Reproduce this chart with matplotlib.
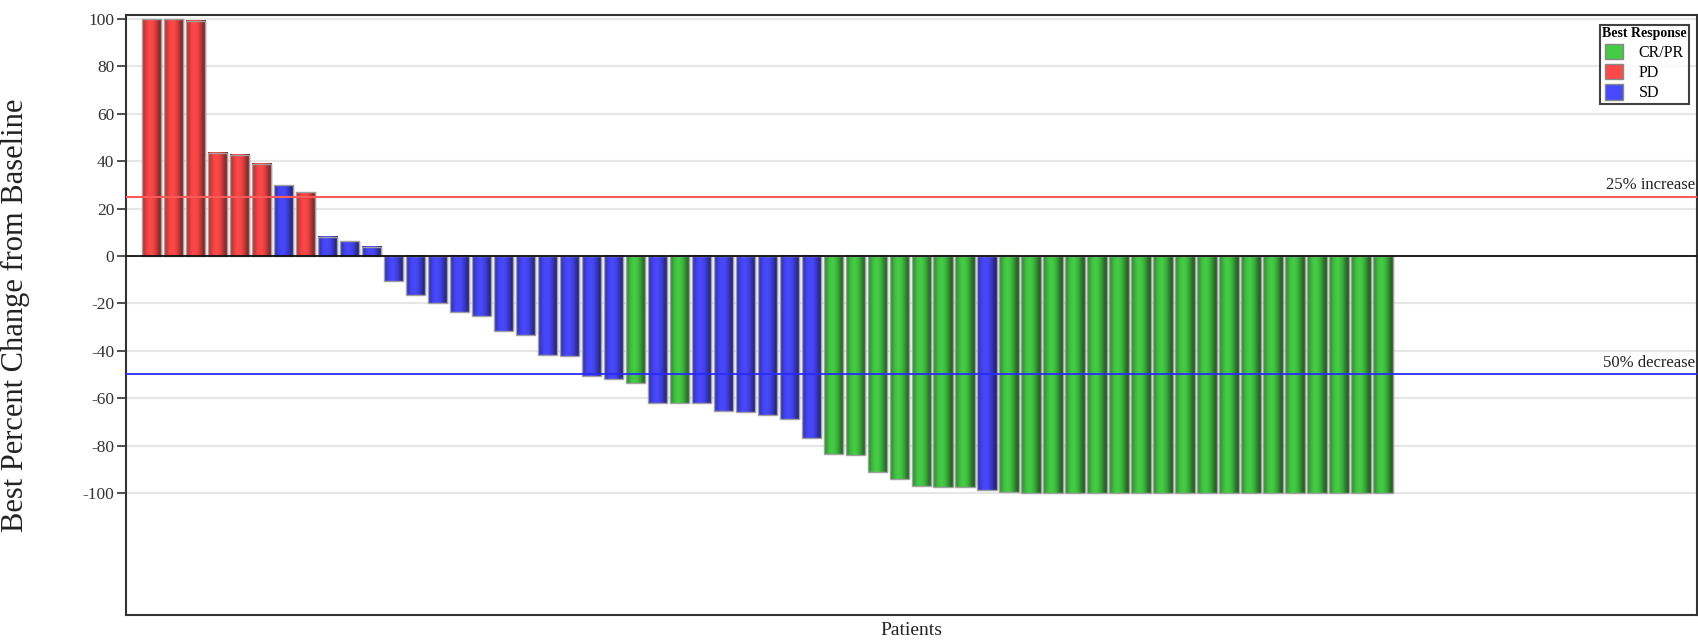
import numpy as np
import matplotlib
matplotlib.use("Agg")
import matplotlib.pyplot as plt
from matplotlib.colors import to_rgb
from matplotlib.patches import Patch
from matplotlib.transforms import blended_transform_factory

plt.rcParams['font.family'] = ['Liberation Serif', 'DejaVu Serif']

# ---- data ----
responses = (["PD"] * 6 + ["SD", "PD"] + ["SD"] * 14 + ["CR/PR", "SD", "CR/PR"] +
             ["SD"] * 6 + ["CR/PR"] * 7 + ["SD"] + ["CR/PR"] * 18)
values = [100, 100, 99.3, 43.6, 42.8, 39, 29.8, 27, 8.2, 6.3, 3.8,
          -10.4, -16.6, -19.7, -23.8, -25.2, -31.5, -33.2, -41.6, -42, -50.5, -52,
          -53.4, -61.9, -62.2, -62.2, -65.3, -65.7, -67, -68.9, -77,
          -83.5, -84, -91.3, -94, -97, -97.5, -97.6, -98.7,
          -99.6, -100, -100, -100, -100, -100, -100, -100, -100, -100, -100,
          -100, -100, -100, -100, -100, -100, -100]
legend_order = ["CR/PR", "PD", "SD"]
response_colors = {"CR/PR": "#44cc44", "PD": "#ff4848", "SD": "#4848ff"}
yticks = [-100, -80, -60, -40, -20, 0, 20, 40, 60, 80, 100]
increase_level = 25
decrease_level = -50

W, H = 1698, 641
fig = plt.figure(figsize=(W / 100, H / 100), dpi=100)
ax = fig.add_axes([126 / W, (H - 615) / H, (1697 - 126) / W, 600 / H])

x = np.arange(len(values))
bw = 0.87
cols = [response_colors[r] for r in responses]

# drop shadow
ax.bar(x + 0.12, values, width=bw, color="#000000", alpha=0.07, zorder=2, linewidth=0)
bars = ax.bar(x, values, width=bw, color=cols, zorder=3, linewidth=0)

# horizontal shading gradient inside each bar
t = np.linspace(0, 1, 64)
shade = 0.45 + 0.55 * np.clip(1 - ((t - 0.42) / 0.58) ** 2, 0, 1) ** 1.6
for b, c in zip(bars, cols):
    rgb = np.array(to_rgb(c))
    img = (shade[None, :, None] * rgb[None, None, :])
    x0 = b.get_x()
    w = b.get_width()
    h = b.get_height()
    ax.imshow(img, extent=[x0, x0 + w, 0, h], aspect='auto', zorder=4,
              interpolation='bilinear', origin='lower')
ax.bar(x, values, width=bw, facecolor='none', edgecolor='#a0a0a0', linewidth=1.0, zorder=5)

ax.set_xlim(-1.14, 70.27)
ax.set_ylim(-151.5, 101.7)

ax.set_yticks(yticks)
ax.set_yticklabels([str(v) for v in yticks])
ax.yaxis.grid(True, color='#e6e6e6', linewidth=1.5, zorder=0)
ax.set_axisbelow(True)
ax.set_xticks([])
ax.tick_params(axis='y', length=6.5, width=1.2, pad=2, labelsize=12.5, labelcolor='#333333', color='#333333')

ax.axhline(0, color='#111111', linewidth=1.3, zorder=6)
ax.axhline(increase_level, color='#ff5a5a', linewidth=1.5, zorder=6)
ax.axhline(decrease_level, color='#2a2aff', linewidth=1.3, zorder=6)

tr = blended_transform_factory(ax.transAxes, ax.transData)
ax.text(0.999, increase_level + 1.5, "25% increase", transform=tr, ha='right', va='bottom',
        fontsize=12, color='#222222', zorder=7)
ax.text(0.999, decrease_level + 1.5, "50% decrease", transform=tr, ha='right', va='bottom',
        fontsize=12, color='#222222', zorder=7)

for s in ax.spines.values():
    s.set_color('#333333')
    s.set_linewidth(1.5)

ax.set_ylabel("Best Percent Change from Baseline", fontsize=22, color='#222222')
ax.yaxis.set_label_coords(-0.061, 0.5)
ax.set_xlabel("Patients", fontsize=14, color='#222222')
ax.xaxis.set_label_coords(0.5, -0.012)
ax.xaxis.label.set_verticalalignment('top')

handles = [Patch(facecolor=response_colors[k], edgecolor='#888888', label=k) for k in legend_order]
leg = fig.legend(handles=handles, title="Best Response", loc='upper right',
                 bbox_to_anchor=(1689 / W, 1 - 25 / H), frameon=True, fancybox=False,
                 fontsize=11.5, title_fontproperties={'weight': 'bold', 'size': 10},
                 handlelength=1.1, handleheight=1.1, handletextpad=1.0,
                 labelspacing=0.2, borderpad=0.15, borderaxespad=0)
leg.get_frame().set_edgecolor('#111111')
leg.get_frame().set_linewidth(1.5)
leg._legend_box.align = "center"

fig.savefig("out.png", dpi=100)
